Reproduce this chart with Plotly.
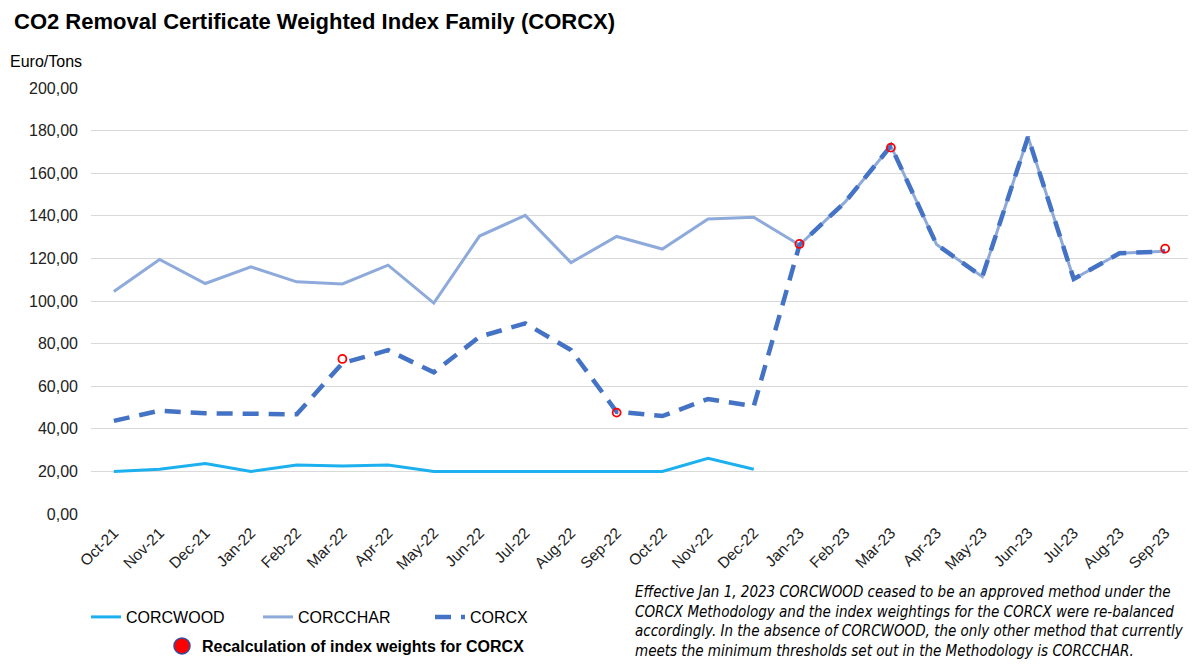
import plotly.graph_objects as go

months = ["Oct-21","Nov-21","Dec-21","Jan-22","Feb-22","Mar-22","Apr-22","May-22","Jun-22","Jul-22",
          "Aug-22","Sep-22","Oct-22","Nov-22","Dec-22","Jan-23","Feb-23","Mar-23","Apr-23","May-23",
          "Jun-23","Jul-23","Aug-23","Sep-23"]

corcwood_months = months[:15]
corcwood = [20.0, 21.0, 23.7, 20.0, 23.0, 22.5, 23.0, 20.0, 20.0, 20.0, 20.0, 20.0, 20.0, 26.2, 21.0]

corcchar = [104.5, 119.5, 108.2, 116.0, 109.0, 108.0, 116.8, 99.0, 130.5, 140.2,
            118.0, 130.3, 124.4, 138.5, 139.3, 126.3, 146.5, 172.8, 126.5, 111.4,
            177.0, 110.3, 122.4, 123.3]

corcx = [43.7, 48.5, 47.3, 46.8, 46.8, 70.8, 76.9, 66.5, 83.2, 89.5,
         77.0, 48.0, 46.0, 54.0, 50.6, 126.3, 146.5, 172.8, 126.5, 111.4,
         177.0, 110.3, 122.4, 123.3]

recalc_months = ["Mar-22", "Sep-22", "Jan-23", "Mar-23", "Sep-23"]
recalc_values = [72.8, 47.6, 126.8, 172.0, 124.6]

y_ticks = [0, 20, 40, 60, 80, 100, 120, 140, 160, 180, 200]
y_tick_labels = [f"{v},00" for v in y_ticks]

FONT = "Liberation Sans, Arial, sans-serif"

# page body has an 8px margin; figure coordinates below are relative to the figure
W, H = 1193, 660
L, R, T, B = 83, 1180, 80, 506
PW, PH = R - L, B - T

def px_x(x):
    return (x - L) / PW

def px_y(y):
    return (B - y) / PH

fig = go.Figure()

fig.add_trace(go.Scatter(x=corcwood_months, y=corcwood, name="CORCWOOD", mode="lines",
                         line=dict(color="#1CB0EE", width=3), legend="legend"))
fig.add_trace(go.Scatter(x=months, y=corcchar, name="CORCCHAR", mode="lines",
                         line=dict(color="#8EAADB", width=3), legend="legend"))
fig.add_trace(go.Scatter(x=months, y=corcx, name="CORCX", mode="lines",
                         line=dict(color="#4472C4", width=4.5, dash="16px,10px"), legend="legend"))
fig.add_trace(go.Scatter(x=recalc_months, y=recalc_values, mode="markers", showlegend=False,
                         marker=dict(symbol="circle-open", size=8, color="#FF0000",
                                     line=dict(width=1.8, color="#FF0000"))))
fig.add_trace(go.Scatter(x=[None], y=[None], mode="markers",
                         name="<b>Recalculation of index weights for CORCX</b>",
                         marker=dict(symbol="circle", size=17, color="#FF0000",
                                     line=dict(width=1.5, color="#2F4F9F")),
                         legend="legend2"))

note = ("Effective Jan 1, 2023 CORCWOOD ceased to be an approved method under the<br>"
        "CORCX Methodology and the index weightings for the CORCX were re-balanced<br>"
        "accordingly. In the absence of CORCWOOD, the only other method that currently<br>"
        "meets the minimum thresholds set out in the Methodology is CORCCHAR.")

fig.add_annotation(text=note, xref="paper", yref="paper", x=px_x(625), y=px_y(573),
                   xanchor="left", yanchor="top", showarrow=False, align="left",
                   font=dict(family="Liberation Sans Narrow, DejaVu Sans Condensed, Liberation Sans",
                             size=15, color="#000000", style="italic"))

fig.add_annotation(text="Euro/Tons", xref="paper", yref="paper", x=px_x(0), y=px_y(53),
                   xanchor="left", yanchor="middle", showarrow=False,
                   font=dict(family=FONT, size=16, color="#000000"))

fig.update_layout(
    width=W, height=H,
    paper_bgcolor="white", plot_bgcolor="white",
    margin=dict(l=L, r=W - R, t=T, b=H - B, autoexpand=False),
    title=dict(text="<b>CO2 Removal Certificate Weighted Index Family (CORCX)</b>",
               x=6 / W, xanchor="left", y=1 - 13 / H, yanchor="middle",
               font=dict(family=FONT, size=22, color="#000000")),
    font=dict(family=FONT, color="#000000"),
    xaxis=dict(type="category", categoryarray=months, tickangle=-45, showgrid=False,
               showline=False, ticks="", tickfont=dict(family=FONT, size=15.5, color="#222222"),
               range=[-0.5, 23.5], automargin=False, ticklabelstandoff=6),
    yaxis=dict(range=[0, 200], tickvals=y_ticks, ticktext=y_tick_labels, showgrid=True,
               gridcolor="#D9D9D9", gridwidth=1, zeroline=False, showline=False,
               tickfont=dict(family=FONT, size=16, color="#222222"), ticks="", ticklen=0,
               automargin=False, ticklabelstandoff=12),
    legend=dict(orientation="h", x=px_x(78), y=px_y(609), xanchor="left", yanchor="middle",
                font=dict(family=FONT, size=16, color="#000000"), bgcolor="rgba(0,0,0,0)",
                itemwidth=30, tracegroupgap=0, entrywidth=127, entrywidthmode="pixels"),
    legend2=dict(orientation="h", x=px_x(154), y=px_y(638), xanchor="left", yanchor="middle",
                 font=dict(family=FONT, size=16, color="#000000"), bgcolor="rgba(0,0,0,0)"),
)

fig.write_html("out.html")
